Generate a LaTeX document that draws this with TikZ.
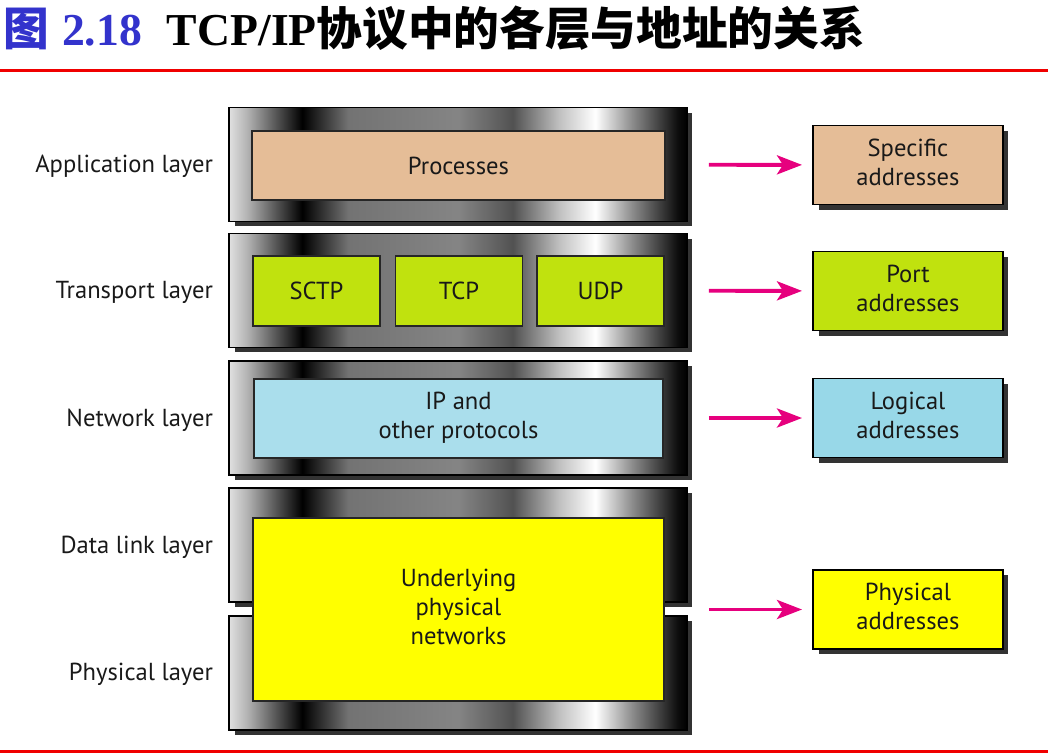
\documentclass[tikz,border=0pt]{standalone}
\usepackage{fontspec}
\setmainfont{PT Sans}
\newfontfamily\cjk{Noto Sans CJK SC}
\newfontfamily\timesbf{Liberation Serif}
\usepackage{tikz}
\usetikzlibrary{arrows.meta, shadows}
\definecolor{mytan}{RGB}{229,189,151}
\definecolor{mylime}{RGB}{192,226,14}
\definecolor{myblue}{RGB}{170,222,236}
\definecolor{mylogic}{RGB}{152,216,232}
\definecolor{myyellow}{RGB}{255,255,0}
\definecolor{mymagenta}{RGB}{230,0,126}
\definecolor{titleblue}{RGB}{51,51,204}
\definecolor{rulered}{RGB}{240,0,0}
\pgfdeclarehorizontalshading{metal}{100bp}{color(0bp)=(black!12); color(25bp)=(black!12);
    color(27bp)=(black!30); color(33bp)=(black); color(38bp)=(black!55);
    color(50bp)=(black!48); color(56bp)=(black!68); color(61bp)=(black!25);
    color(65bp)=(white); color(69bp)=(black!45); color(74bp)=(black!95);
    color(75bp)=(black); color(100bp)=(black)}
\tikzstyle{band} = [draw=black, outer sep=0, inner sep=0, line width=1.1,
    minimum width=9.16cm, minimum height=2.28cm, shading=metal,
    drop shadow={shadow xshift=0.11cm, shadow yshift=-0.1cm, fill=black!80, opacity=1}]
\tikzstyle{proto} = [draw=black!85, outer sep=0, inner sep=0, line width=0.8,
    font=\fontsize{14}{16.5}\selectfont, text=black!90, align=center]
\tikzstyle{addr} = [proto, draw=black, line width=1, minimum width=3.8cm, minimum height=1.58cm,
    drop shadow={shadow xshift=0.11cm, shadow yshift=-0.1cm, fill=black!80, opacity=1}]
\tikzstyle{layer} = [draw=none, outer sep=0, inner sep=0, anchor=east,
    font=\fontsize{14}{16.5}\selectfont, text=black!90]
\tikzstyle{addrarrow} = [-{Stealth[length=0.5cm, width=0.38cm, inset=0.12cm]},
    line width=2.2, color=mymagenta, shorten >=0.22cm]

\begin{document}
\begin{tikzpicture}[x=0.02cm, y=-0.02cm]
\useasboundingbox (0,0) rectangle (1048,755);

%%% title
\node[anchor=base west, inner sep=0] (title) at (3,45) {\fontsize{26}{30}\selectfont
    {\color{titleblue}\cjk\bfseries 图}\hspace{0.26cm}{\color{titleblue}\timesbf\bfseries 2.18}\hspace{0.5cm}{\timesbf\bfseries TCP/IP}{\cjk\bfseries 协议中的各层与地址的关系}};
\fill[rulered] (0,69) rectangle (1048,72);
\fill[rulered] (0,750) rectangle (1048,753);

%%% layer bands
\node[band] (appband) at (458,164.5) {};
\node[band] (trband) at (458,290.5) {};
\node[band] (netband) at (458,418) {};
\node[band] (dlband) at (458,545) {};
\node[band] (phyband) at (458,673) {};

%%% protocols
\node[proto, fill=mytan, minimum width=8.26cm, minimum height=1.38cm] (processes) at (458.5,165.5) {Processes};
\node[proto, fill=mylime, minimum width=2.54cm, minimum height=1.40cm] (sctp) at (316.5,291) {SCTP};
\node[proto, fill=mylime, minimum width=2.54cm, minimum height=1.40cm] (tcp) at (459,291) {TCP};
\node[proto, fill=mylime, minimum width=2.54cm, minimum height=1.40cm] (udp) at (600.5,291) {UDP};
\node[proto, fill=myblue, minimum width=8.18cm, minimum height=1.58cm] (ip) at (458.5,418.5) {\begin{tabular}{c} IP and \\ other protocols \end{tabular}};
\node[proto, fill=myyellow, minimum width=8.22cm, minimum height=3.66cm] (underlying) at (458.5,609.5) {\begin{tabular}{c} Underlying \\ physical \\ networks \end{tabular}};

%%% layer names
\node[layer] (lapp) at (213,166) {Application layer};
\node[layer] (ltr) at (213,292) {Transport layer};
\node[layer] (lnet) at (213,420) {Network layer};
\node[layer] (ldl) at (213,547) {Data link layer};
\node[layer] (lphy) at (213,674) {Physical layer};

%%% addresses
\node[addr, fill=mytan] (specific) at (908,165) {\begin{tabular}{c} Specific \\ addresses \end{tabular}};
\node[addr, fill=mylime] (port) at (908,291) {\begin{tabular}{c} Port \\ addresses \end{tabular}};
\node[addr, fill=mylogic] (logical) at (908,418) {\begin{tabular}{c} Logical \\ addresses \end{tabular}};
\node[addr, fill=myyellow] (physaddr) at (908,609.5) {\begin{tabular}{c} Physical \\ addresses \end{tabular}};

\draw[addrarrow, shorten <=0.44cm] (appband) -- (specific);
\draw[addrarrow, shorten <=0.44cm] (trband) -- (port);
\draw[addrarrow, shorten <=0.44cm] (netband) -- (logical);
\draw[addrarrow, shorten <=0.9cm] (underlying) -- (physaddr);

\end{tikzpicture}
\end{document}
